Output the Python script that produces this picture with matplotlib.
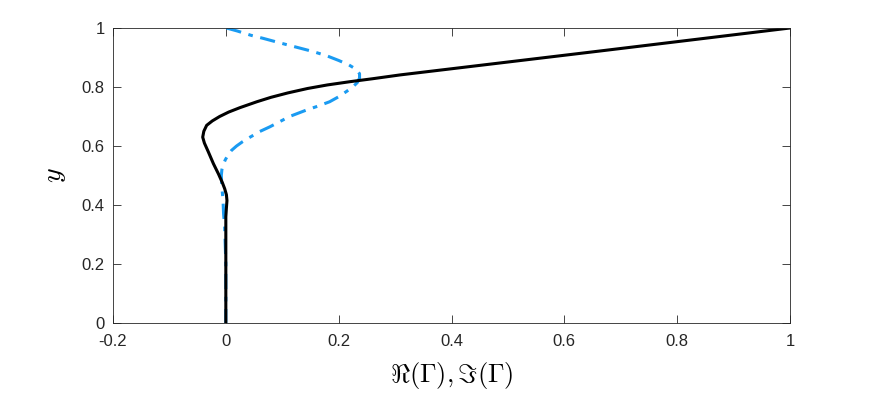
import matplotlib
matplotlib.use('Agg')
import matplotlib.pyplot as plt

# Re(Gamma) profile, black solid
re_x = [1.0, 0.663, 0.309, 0.26, 0.22, 0.18, 0.145, 0.11, 0.08, 0.055, 0.025, 0.005,
        -0.011, -0.024, -0.034, -0.039, -0.041, -0.038, -0.031, -0.022, -0.013, -0.006,
        -0.002, 0.001, 0.002, 0.001, 0.0, 0.0, 0.0]
re_y = [1.0, 0.922, 0.841, 0.828, 0.818, 0.807, 0.795, 0.78, 0.765, 0.75, 0.73, 0.715,
        0.70, 0.685, 0.67, 0.65, 0.63, 0.61, 0.58, 0.54, 0.505, 0.475,
        0.455, 0.435, 0.415, 0.39, 0.36, 0.30, 0.0]

# Im(Gamma) profile, blue dash-dot
im_x = [0.001, 0.02, 0.045, 0.066, 0.095, 0.125, 0.155, 0.18, 0.20, 0.218, 0.231, 0.237,
        0.237, 0.233, 0.225, 0.214, 0.200, 0.184, 0.163, 0.143, 0.113, 0.093, 0.078,
        0.06, 0.043, 0.030, 0.019, 0.010, 0.004, -0.001, -0.005, -0.007, -0.008, -0.007,
        -0.005, -0.004, -0.002, 0.0, 0.0]
im_y = [1.0, 0.99, 0.975, 0.965, 0.95, 0.935, 0.92, 0.905, 0.89, 0.875, 0.86, 0.845,
        0.83, 0.815, 0.80, 0.785, 0.767, 0.75, 0.735, 0.722, 0.70, 0.68, 0.665,
        0.649, 0.63, 0.615, 0.60, 0.585, 0.57, 0.553, 0.535, 0.52, 0.50, 0.46,
        0.417, 0.37, 0.326, 0.2, 0.0]

x_ticks = [-0.2, 0, 0.2, 0.4, 0.6, 0.8, 1]
x_labels = ['-0.2', '0', '0.2', '0.4', '0.6', '0.8', '1']
y_ticks = [0, 0.2, 0.4, 0.6, 0.8, 1]
y_labels = ['0', '0.2', '0.4', '0.6', '0.8', '1']

plt.rcParams['font.family'] = ['Liberation Sans', 'DejaVu Sans']
plt.rcParams['mathtext.fontset'] = 'cm'

fig = plt.figure(figsize=(8.72, 3.96), dpi=100)
ax = fig.add_axes([113 / 872, 73 / 396, 677 / 872, 295 / 396])

ax.plot(im_x, im_y, color='#1a9bf2', linestyle='-.', linewidth=2.2,
        dashes=(5, 2.5, 1.5, 2.5), solid_joinstyle='round', dash_joinstyle='round')
ax.plot(re_x, re_y, color='black', linewidth=2.2, solid_joinstyle='round')

ax.set_xlim(-0.2, 1)
ax.set_ylim(0, 1)
ax.set_xticks(x_ticks)
ax.set_xticklabels(x_labels)
ax.set_yticks(y_ticks)
ax.set_yticklabels(y_labels)
ax.tick_params(direction='in', top=True, right=True, length=6, width=0.6,
               colors='#262626', labelsize=12, labelcolor='#262626')
ax.tick_params(axis='x', pad=8)
ax.tick_params(axis='y', pad=6)
for s in ax.spines.values():
    s.set_color('#262626')
    s.set_linewidth(0.6)

ax.set_xlabel(r'$\Re(\Gamma), \Im(\Gamma)$', fontsize=19, labelpad=8)
ax.set_ylabel(r'$y$', fontsize=20, labelpad=10)

fig.savefig('out.png', dpi=100)
